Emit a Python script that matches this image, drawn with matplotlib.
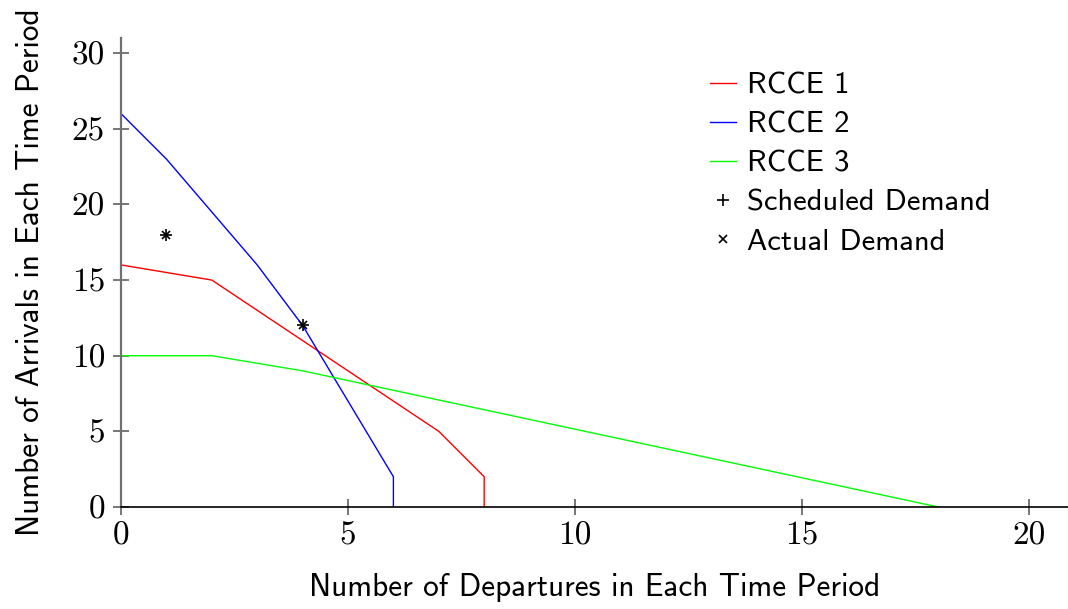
import matplotlib.pyplot as plt

# data
rcce1_x = [0, 2, 7, 8, 8]
rcce1_y = [16, 15, 5, 2, 0]
rcce2_x = [0, 1, 2, 3, 4, 6, 6]
rcce2_y = [26, 23, 19.5, 16, 12, 2, 0]
rcce3_x = [0, 2, 4, 18]
rcce3_y = [10, 10, 9, 0]
demand_x = [1, 4]
sched_y = [18, 12]
actual_y = [18, 12]

xticks = [0, 5, 10, 15, 20]
yticks = [0, 5, 10, 15, 20, 25, 30]

sans = 'cmss10'
serif = 'cmr10'

fig = plt.figure(figsize=(10.68, 6.09), dpi=100)
ax = fig.add_axes([0.1133, 0.1675, 0.8867, 0.7701])

ax.plot(rcce1_x, rcce1_y, color='#ff0000', lw=1, label='RCCE 1')
ax.plot(rcce2_x, rcce2_y, color='#0000ff', lw=1, label='RCCE 2')
ax.plot(rcce3_x, rcce3_y, color='#00ff00', lw=1, label='RCCE 3')
ax.plot(demand_x, sched_y, ls='none', marker='+', color='black', ms=9, mew=1.2,
        label='Scheduled Demand')
ax.plot(demand_x, actual_y, ls='none', marker='x', color='black', ms=6, mew=1.2,
        label='Actual Demand')

ax.set_xlim(0, 20.86)
ax.set_ylim(0, 31)
ax.set_xticks(xticks)
ax.set_yticks(yticks)
for lbl in ax.get_xticklabels() + ax.get_yticklabels():
    lbl.set_fontfamily(serif)
    lbl.set_fontsize(24)

ax.spines['top'].set_visible(False)
ax.spines['right'].set_visible(False)
ax.spines['left'].set_color('#707070')
ax.spines['left'].set_linewidth(1.6)
ax.spines['bottom'].set_color('black')
ax.spines['bottom'].set_linewidth(1.2)
ax.tick_params(axis='y', direction='inout', length=11, width=1.2, color='#606060', pad=6)
ax.tick_params(axis='x', direction='inout', length=11, width=1.2, color='#606060', pad=5)

ax.set_xlabel('Number of Departures in Each Time Period', fontfamily=sans, fontsize=22.5,
              labelpad=16)
ax.set_ylabel('Number of Arrivals in Each Time Period', fontfamily=sans, fontsize=22.5,
              labelpad=19)

leg = ax.legend(loc='upper left', bbox_to_anchor=(0.593, 0.985), frameon=False,
                prop={'family': sans, 'size': 22}, handlelength=0.85,
                handletextpad=0.35, labelspacing=0.38)

fig.savefig('out.png', dpi=100)
